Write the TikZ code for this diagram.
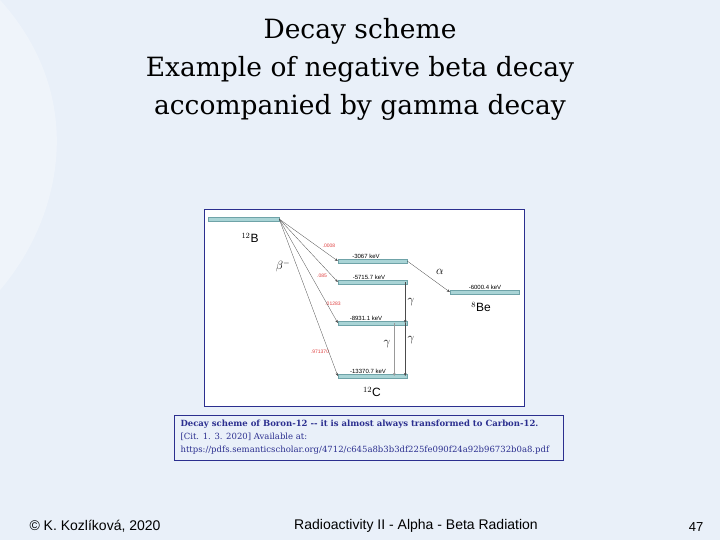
\documentclass[tikz,border=0pt]{standalone}
\usepackage{fontspec}
\setmainfont{Liberation Serif}
\newfontfamily\arialf{Liberation Sans}
\newfontfamily\dvs{DejaVu Serif}
\usetikzlibrary{arrows.meta}
\definecolor{bgc}{HTML}{E9F0F9}
\definecolor{lvl}{HTML}{A9D4D6}
\definecolor{lvld}{HTML}{6FA3A8}
\definecolor{navy}{HTML}{2B2F8F}
\definecolor{redl}{HTML}{E04040}
\begin{document}
\begin{tikzpicture}[x=1pt,y=-1pt,
  level/.style={draw=lvld,fill=lvl,line width=0.4pt,minimum height=3.5pt,inner sep=0pt},
  bar/.style={arrows={-Stealth[length=3pt,width=2.5pt]},line width=0.3pt,black!70},
  kev/.style={font=\arialf\fontsize{6}{6}\selectfont,inner sep=0pt},
  prob/.style={font=\arialf\fontsize{5}{5}\selectfont,text=redl,inner sep=0pt},
  nuc/.style={font=\arialf\fontsize{12}{12}\selectfont,inner sep=0pt},
  gl/.style={font=\fontsize{12}{12}\selectfont,inner sep=0pt}]
\useasboundingbox (0,0) rectangle (720,540);
\fill[bgc] (0,0) rectangle (720,540);
\fill[white,opacity=0.3] (0,0) .. controls (90,100) and (60,220) .. (0,290) -- cycle;
\node[font=\dvs\fontsize{26.5}{38}\selectfont,align=center] (title) at (360,69) {Decay scheme\\Example of negative beta decay\\accompanied by gamma decay};
\node[draw=navy,fill=white,line width=0.8pt,minimum width=320,minimum height=197,inner sep=0] (box) at (364,307.5) {};
\node[level,minimum width=71] (B) at (243.5,219) {};
\node[level,minimum width=69] (L1) at (372.5,261) {};
\node[level,minimum width=69] (L2) at (372.5,282) {};
\node[level,minimum width=69] (L3) at (372.5,323) {};
\node[level,minimum width=69] (L4) at (372.5,376) {};
\node[level,minimum width=69] (Be) at (484.5,292) {};
\node[nuc] (tB) at (250,238) {$^{12}$B};
\node[nuc] (tC) at (372,392) {$^{12}$C};
\node[nuc] (tBe) at (481,307) {$^{8}$Be};
\node[kev] (k1) at (366,256) {-3067 keV};
\node[kev] (k2) at (369,277) {-5715.7 keV};
\node[kev] (k3) at (366,318) {-8931.1 keV};
\node[kev] (k4) at (368,371) {-13370.7 keV};
\node[kev] (k5) at (485,287) {-6000.4 keV};
\node[prob] (p1) at (329,246) {.0008};
\node[prob] (p2) at (322,276) {.085};
\node[prob] (p3) at (333,304) {.01283};
\node[prob] (p4) at (320,352) {.971370};
\node[gl] (beta) at (283,266) {$\beta^{-}$};
\node[gl] (alpha) at (440,272) {$\alpha$};
\node[gl] (g1) at (411,302) {$\gamma$};
\node[gl] (g2) at (411,340) {$\gamma$};
\node[gl] (g3) at (387,344) {$\gamma$};
\foreach \L in {L1,L2,L3,L4} \draw[bar] (B.east) -- (\L.west);
\draw[bar] (L1.east) -- (Be.west);
\draw[bar] ([xshift=-2]L2.east) -- ([xshift=-2]L3.east);
\draw[bar] ([xshift=-2]L3.east) -- ([xshift=-2]L4.east);
\draw[bar,black!40] ([xshift=-13]L3.east) -- ([xshift=-13]L4.east);
\node[draw=navy,fill=bgc,line width=0.8pt,minimum width=389,minimum height=45,inner sep=0] (cap) at (368.5,437.5) {};
\node[anchor=west,align=left,text=navy,font=\dvs\fontsize{8.5}{13}\selectfont] (ct) at (177,437.5) {\textbf{Decay scheme of Boron-12 -- it is almost always transformed to Carbon-12.}\\{[Cit. 1. 3. 2020] Available at:}\\https://pdfs.semanticscholar.org/4712/c645a8b3b3df225fe090f24a92b96732b0a8.pdf};
\node[font=\arialf\fontsize{14}{14}\selectfont] (f1) at (95,526) {© K. Kozlíková, 2020};
\node[font=\arialf\fontsize{14}{14}\selectfont] (f2) at (416,526) {Radioactivity II - Alpha - Beta Radiation};
\node[font=\arialf\fontsize{13}{13}\selectfont] (f3) at (696,527) {47};
\end{tikzpicture}
\end{document}
